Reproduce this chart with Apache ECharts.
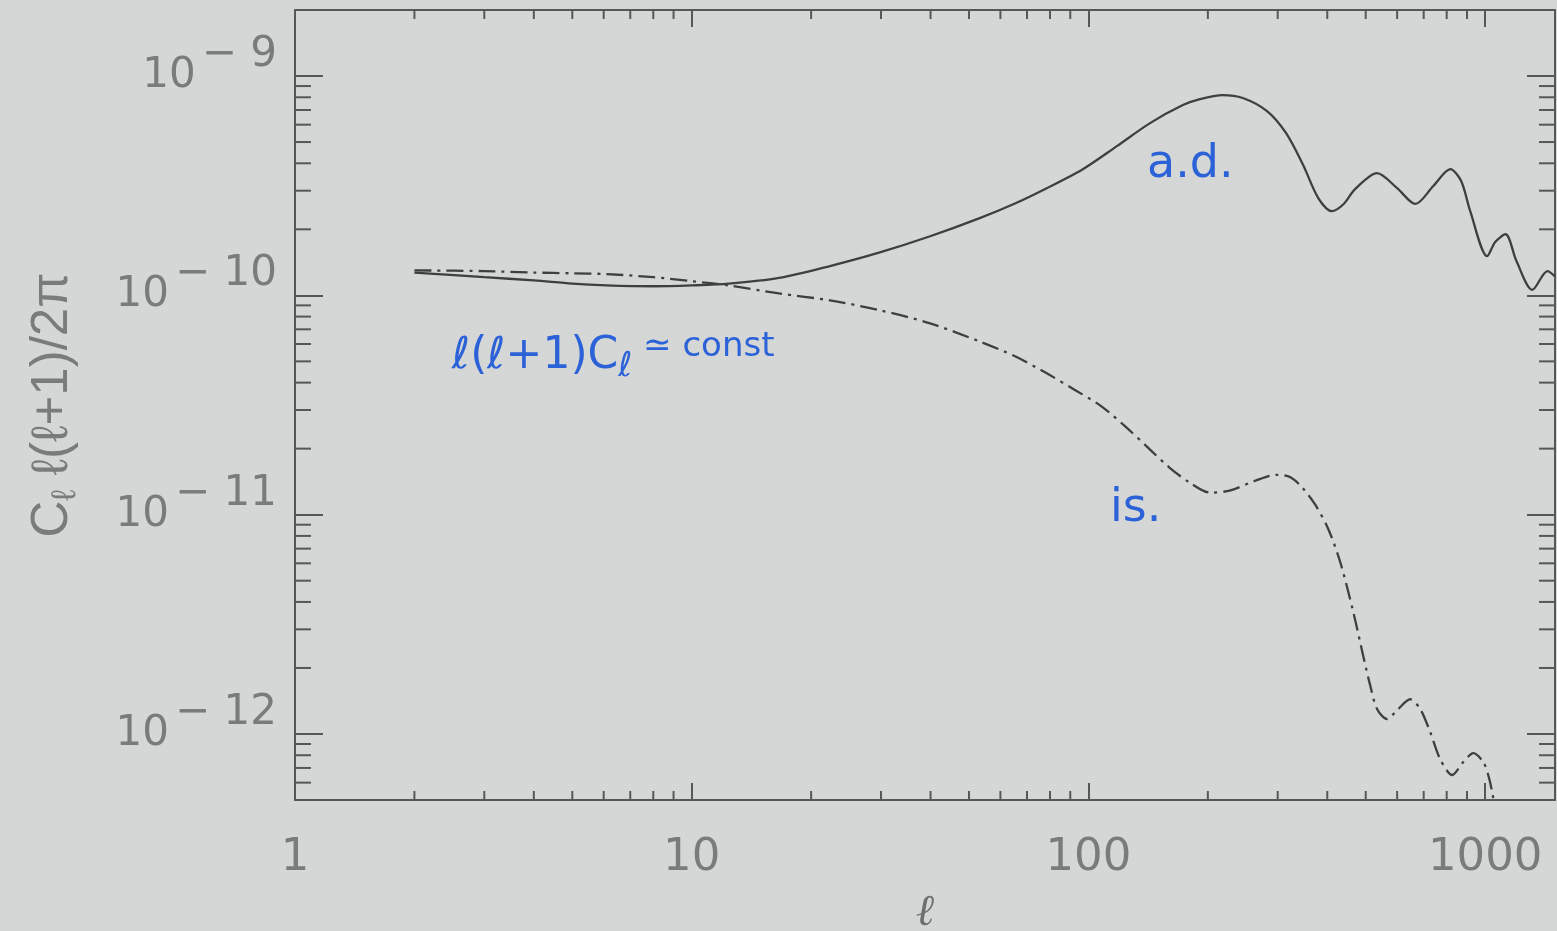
<!DOCTYPE html>
<html>
<head>
<meta charset="utf-8">
<script src="https://cdn.jsdelivr.net/npm/echarts@6/dist/echarts.min.js"></script>
<style>
html, body { margin: 0; padding: 0; background: #d5d7d6; }
#chart { width: 1557px; height: 931px; }
</style>
</head>
<body>
<div id="chart"></div>
<script>
// ---- data ----
const adEll = [2, 3, 4, 5, 6.1, 8, 10, 12.4, 16.6, 22.3, 29.8, 39.9, 53.2, 65.5, 78.5, 96.8, 118, 143, 173, 191, 218, 245, 282, 315, 347, 380, 411, 440, 470, 534, 600, 667, 740, 817, 870, 917, 1012, 1060, 1125, 1200, 1315, 1436, 1500];
const adValues = [1.27e-10, 1.21e-10, 1.17e-10, 1.13e-10, 1.11e-10, 1.10e-10, 1.11e-10, 1.13e-10, 1.20e-10, 1.36e-10, 1.57e-10, 1.86e-10, 2.25e-10, 2.63e-10, 3.08e-10, 3.76e-10, 4.79e-10, 6.10e-10, 7.37e-10, 7.85e-10, 8.19e-10, 7.94e-10, 6.92e-10, 5.49e-10, 3.96e-10, 2.77e-10, 2.42e-10, 2.61e-10, 3.05e-10, 3.61e-10, 3.08e-10, 2.61e-10, 3.15e-10, 3.76e-10, 3.32e-10, 2.42e-10, 1.51e-10, 1.75e-10, 1.90e-10, 1.43e-10, 1.06e-10, 1.29e-10, 1.22e-10];

const isEll = [2, 3, 4, 5, 6.1, 8, 10, 12.4, 16.6, 22.3, 29.8, 39.9, 53.2, 65.5, 78.5, 92, 107, 124, 143, 160, 180, 203, 228, 264, 299, 323, 347, 373, 402, 431, 465, 492, 513, 534, 566, 604, 647, 686, 727, 770, 826, 881, 934, 989, 1018, 1042, 1050, 1070];
const isValues = [1.30e-10, 1.29e-10, 1.27e-10, 1.26e-10, 1.25e-10, 1.21e-10, 1.16e-10, 1.11e-10, 1.02e-10, 9.49e-11, 8.55e-11, 7.45e-11, 6.16e-11, 5.26e-11, 4.41e-11, 3.72e-11, 3.15e-11, 2.52e-11, 1.98e-11, 1.64e-11, 1.40e-11, 1.26e-11, 1.29e-11, 1.43e-11, 1.52e-11, 1.48e-11, 1.32e-11, 1.11e-11, 8.63e-12, 6.10e-12, 3.61e-12, 2.30e-12, 1.67e-12, 1.30e-12, 1.17e-12, 1.30e-12, 1.44e-12, 1.30e-12, 1.02e-12, 7.69e-13, 6.50e-13, 7.45e-13, 8.18e-13, 7.45e-13, 6.50e-13, 5.43e-13, 5.0e-13, 4.3e-13];

const xTickLabels = ['1', '10', '100', '1000'];
const yTickExponents = [-12, -11, -10, -9];
const xMinorTicks = [2, 3, 4, 5, 6, 7, 8, 9, 20, 30, 40, 50, 60, 70, 80, 90, 200, 300, 400, 500, 600, 700, 800, 900];
const yMinorTicks = [6e-13, 7e-13, 8e-13, 9e-13, 2e-12, 3e-12, 4e-12, 5e-12, 6e-12, 7e-12, 8e-12, 9e-12, 2e-11, 3e-11, 4e-11, 5e-11, 6e-11, 7e-11, 8e-11, 9e-11, 2e-10, 3e-10, 4e-10, 5e-10, 6e-10, 7e-10, 8e-10, 9e-10];

const xRange = [1, 1500];
const yRange = [5e-13, 2e-9];

// ---- styles ----
const AX = '#555758';
const TXT = '#7a7c7c';
const CURVE = '#3e3f40';
const BLUE = '#2c62d8';
const FONT = '"DejaVu Sans", "Liberation Sans", sans-serif';
const FONT2 = '"Liberation Sans", Arial, sans-serif';
const X_MAJOR = 17, X_MINOR = 9, Y_MAJOR = 28, Y_MINOR = 16;

function isPow10(v) {
  const e = Math.log10(v);
  return Math.abs(e - Math.round(e)) < 1e-6;
}

function xMinorRender(params, api) {
  const cs = params.coordSys;
  const x = api.coord([api.value(0), api.value(1)])[0];
  const b = cs.y + cs.height, t = cs.y;
  return {
    type: 'group',
    children: [
      { type: 'line', shape: { x1: x, y1: b, x2: x, y2: b - X_MINOR }, style: { stroke: AX, lineWidth: 2 } },
      { type: 'line', shape: { x1: x, y1: t, x2: x, y2: t + X_MINOR }, style: { stroke: AX, lineWidth: 2 } }
    ]
  };
}
function yMinorRender(params, api) {
  const cs = params.coordSys;
  const y = api.coord([api.value(0), api.value(1)])[1];
  const l = cs.x, r = cs.x + cs.width;
  return {
    type: 'group',
    children: [
      { type: 'line', shape: { x1: l, y1: y, x2: l + Y_MINOR, y2: y }, style: { stroke: AX, lineWidth: 2 } },
      { type: 'line', shape: { x1: r, y1: y, x2: r - Y_MINOR, y2: y }, style: { stroke: AX, lineWidth: 2 } }
    ]
  };
}

const axisLineStyle = { show: true, onZero: false, lineStyle: { color: AX, width: 2 } };

const chart = echarts.init(document.getElementById('chart'), null, { renderer: 'canvas' });
chart.setOption({
  backgroundColor: '#d5d7d6',
  animation: false,
  grid: { left: 295, right: 2, top: 10, bottom: 131, containLabel: false, outerBoundsMode: 'none' },
  xAxis: [
    {
      type: 'log', logBase: 10, min: xRange[0], max: xRange[1], position: 'bottom',
      axisLine: axisLineStyle,
      axisTick: { show: true, inside: true, length: X_MAJOR, lineStyle: { color: AX, width: 2 } },
      splitLine: { show: false },
      axisLabel: {
        margin: 36, color: TXT, fontSize: 45, fontFamily: FONT,
        formatter: (v) => isPow10(v) ? (xTickLabels[Math.round(Math.log10(v))] || '') : ''
      },
      name: 'ℓ', nameLocation: 'middle', nameGap: 92,
      nameTextStyle: { fontSize: 44, fontStyle: 'italic', color: '#6c6e6f', fontFamily: '"DejaVu Serif", serif' }
    },
    {
      type: 'log', logBase: 10, min: xRange[0], max: xRange[1], position: 'top',
      axisLine: axisLineStyle,
      axisTick: { show: true, inside: true, length: X_MAJOR, lineStyle: { color: AX, width: 2 } },
      splitLine: { show: false },
      axisLabel: { show: false }
    }
  ],
  yAxis: [
    {
      type: 'log', logBase: 10, min: yRange[0], max: yRange[1], position: 'left',
      axisLine: axisLineStyle,
      axisTick: { show: true, inside: true, length: Y_MAJOR, lineStyle: { color: AX, width: 2 } },
      splitLine: { show: false },
      axisLabel: {
        margin: 18, color: TXT, fontFamily: FONT,
        formatter: (v) => {
          if (!isPow10(v)) return '';
          const e = Math.round(Math.log10(v));
          if (!yTickExponents.includes(e)) return '';
          return '{b|10}{s|− ' + Math.abs(e) + '}';
        },
        rich: {
          b: { fontSize: 42, lineHeight: 84, verticalAlign: 'middle', color: TXT, fontFamily: FONT },
          s: { fontSize: 42, lineHeight: 44, verticalAlign: 'top', color: TXT, fontFamily: FONT, padding: [0, 0, 0, 6] }
        }
      },
      name: '{a|C}{sub|ℓ}{a| ℓ(ℓ+1)/2π}', nameLocation: 'middle', nameGap: 212,
      nameTextStyle: {
        color: TXT, fontFamily: FONT2,
        rich: {
          a: { fontSize: 51, color: TXT, fontFamily: FONT2, verticalAlign: 'middle', lineHeight: 60 },
          sub: { fontSize: 34, color: TXT, fontFamily: FONT2, verticalAlign: 'bottom', lineHeight: 44 }
        }
      }
    },
    {
      type: 'log', logBase: 10, min: yRange[0], max: yRange[1], position: 'right',
      axisLine: axisLineStyle,
      axisTick: { show: true, inside: true, length: Y_MAJOR, lineStyle: { color: AX, width: 2 } },
      splitLine: { show: false },
      axisLabel: { show: false }
    }
  ],
  series: [
    {
      name: 'a.d.', type: 'line', xAxisIndex: 0, yAxisIndex: 0,
      data: adEll.map((l, i) => [l, adValues[i]]),
      showSymbol: false, smooth: 0.3, clip: true, z: 5,
      lineStyle: { color: CURVE, width: 2.3 }
    },
    {
      name: 'is.', type: 'line', xAxisIndex: 0, yAxisIndex: 0,
      data: isEll.map((l, i) => [l, isValues[i]]),
      showSymbol: false, smooth: 0.3, clip: true, z: 5,
      lineStyle: { color: CURVE, width: 2.3, type: [17, 6, 3, 6] }
    },
    {
      type: 'custom', xAxisIndex: 0, yAxisIndex: 0, silent: true, clip: false, z: 3,
      renderItem: xMinorRender,
      data: xMinorTicks.map(v => [v, 1e-10])
    },
    {
      type: 'custom', xAxisIndex: 0, yAxisIndex: 0, silent: true, clip: false, z: 3,
      renderItem: yMinorRender,
      data: yMinorTicks.map(v => [10, v])
    }
  ],
  graphic: [
    { type: 'text', left: 1147, top: 142, silent: true,
      style: { text: 'a.d.', fontSize: 46, fontFamily: '"DejaVu Sans", sans-serif', fill: BLUE } },
    { type: 'text', left: 1110, top: 486, silent: true,
      style: { text: 'is.', fontSize: 46, fontFamily: '"DejaVu Sans", sans-serif', fill: BLUE } },
    { type: 'text', left: 452, top: 330, silent: true,
      style: {
        text: '{m|ℓ(ℓ+1)C}{sub|ℓ}{c| ≃ const}',
        rich: {
          m: { fontSize: 44, fontFamily: '"DejaVu Sans", sans-serif', fill: BLUE, verticalAlign: 'middle', lineHeight: 54 },
          sub: { fontSize: 34, fontFamily: '"DejaVu Sans", sans-serif', fill: BLUE, verticalAlign: 'bottom', lineHeight: 44 },
          c: { fontSize: 34, fontFamily: '"DejaVu Sans", sans-serif', fill: BLUE, verticalAlign: 'top', lineHeight: 18 }
        }
      } }
  ]
});
</script>
</body>
</html>
